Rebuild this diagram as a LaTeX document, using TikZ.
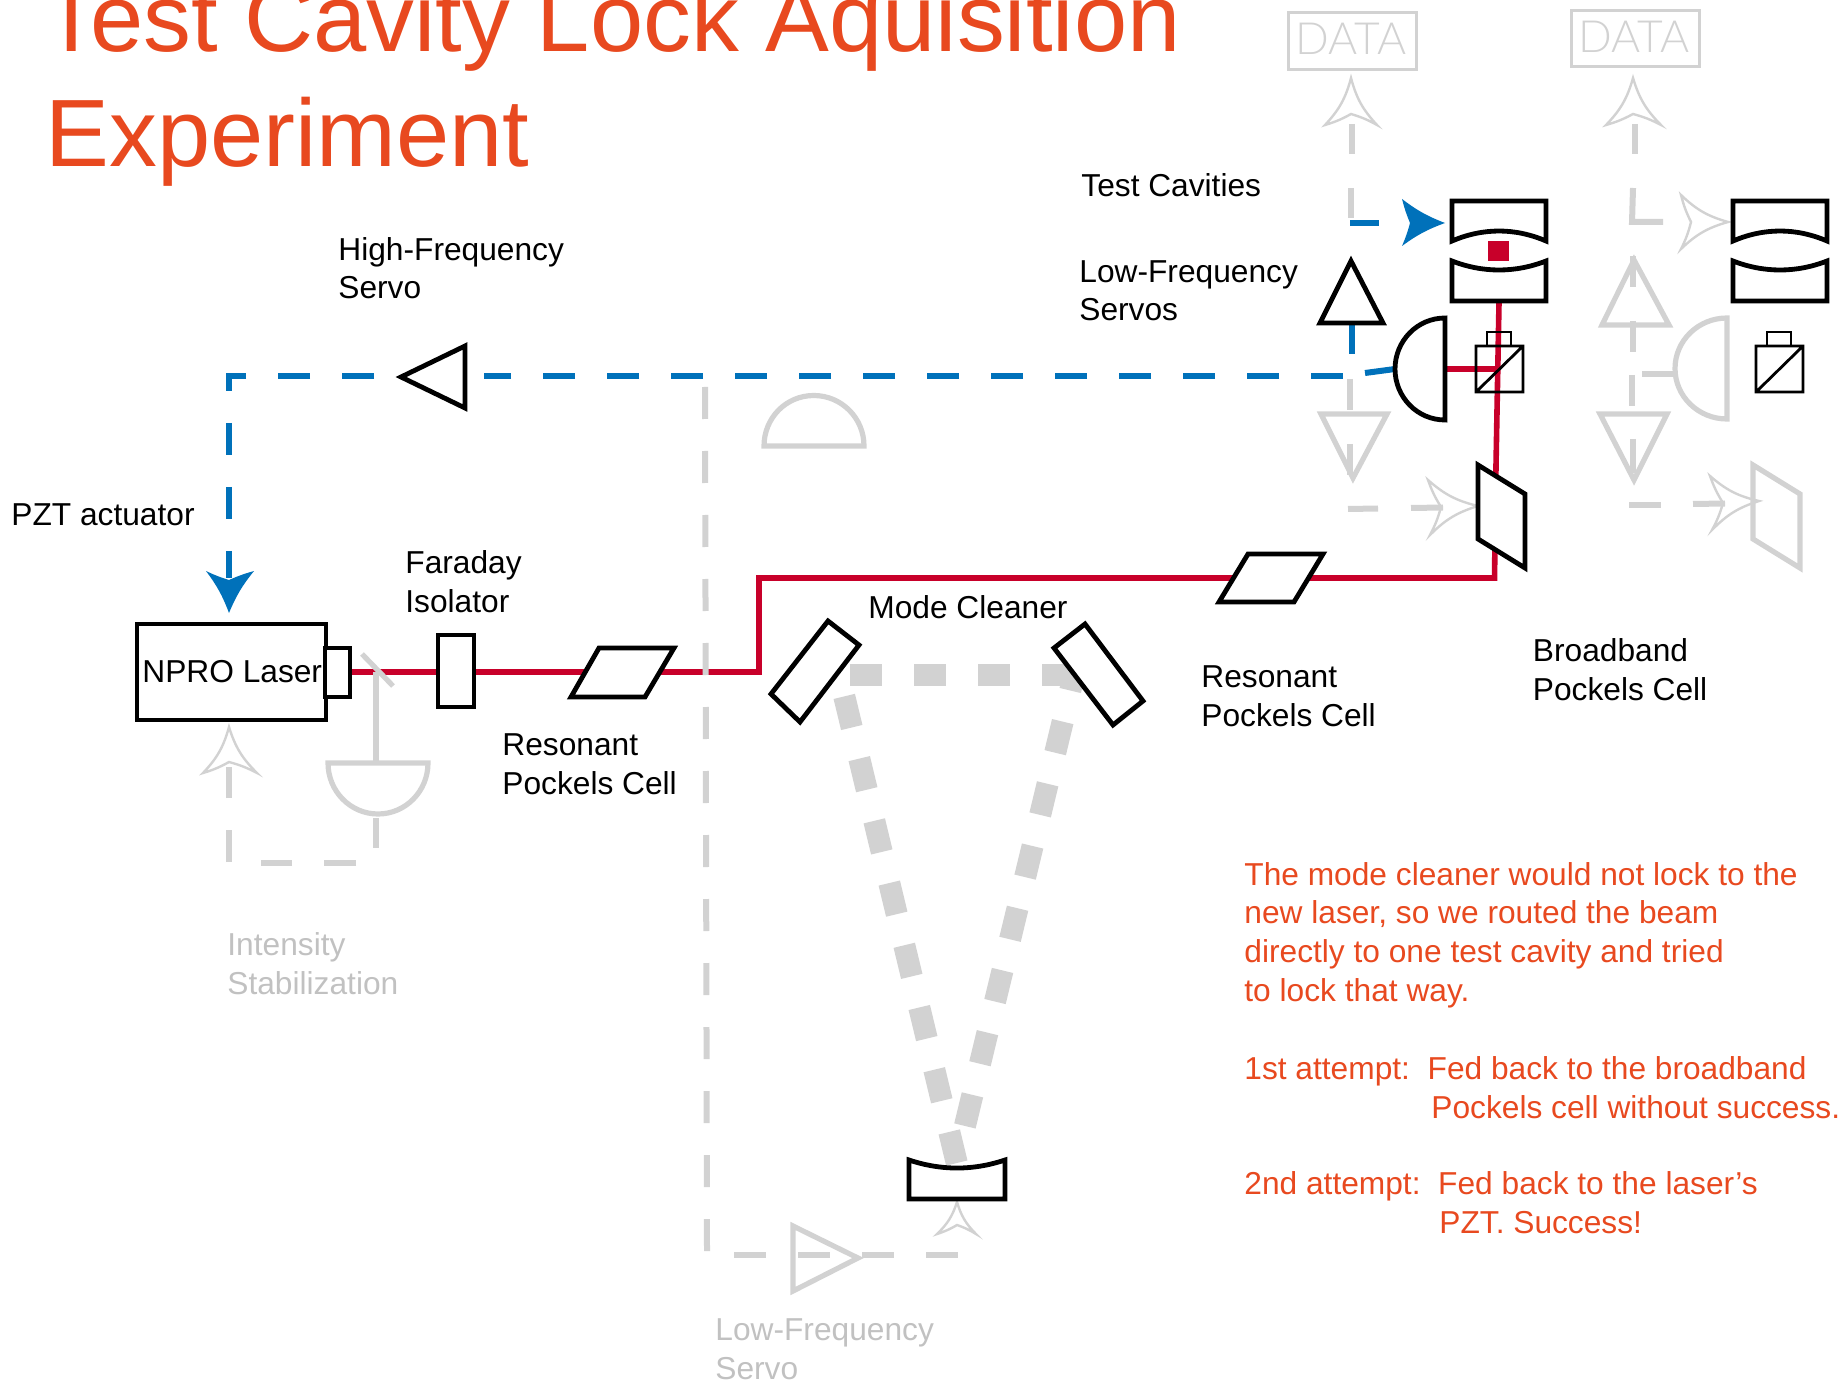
\documentclass[tikz,border=0pt]{standalone}
\usepackage{fontspec}
\setmainfont{Liberation Sans}
\newfontfamily\thinfont{Lato Light}
\definecolor{lasred}{HTML}{C8002A}
\definecolor{sigblue}{HTML}{0071BA}
\definecolor{fade}{HTML}{D2D2D2}
\definecolor{note}{HTML}{E8491F}
\newcommand{\headpath}[4]{(#1) to[bend left=14] (#2) to[bend right=6] (#3) to[bend left=6] (#4) to[bend left=14] cycle}
\newcommand{\solidhead}[4]{(#1) to[bend left=8] (#2) to[bend right=4] (#3) to[bend left=4] (#4) to[bend left=8] cycle}
\newcommand{\cavtop}[1]{(#1,241) .. controls (#1+31,227.7) and (#1+63,227.7) .. (#1+94,241) -- (#1+94,201) -- (#1,201) -- cycle}
\newcommand{\cavbot}[1]{(#1,261) .. controls (#1+31,273) and (#1+63,273) .. (#1+94,261) -- (#1+94,301) -- (#1,301) -- cycle}
\tikzset{
  x=0.5pt,y=-0.5pt,
  optic/.style={draw=black,line width=2.4pt,fill=white,miter limit=10},
  thinoptic/.style={draw=black,line width=1.4pt},
  ghost/.style={draw=fade,line width=2.6pt,miter limit=10},
  beam/.style={draw=lasred,line width=2.8pt},
  fb/.style={draw=sigblue,line width=3pt},
  fbdash/.style={fb,dash pattern=on 16pt off 16pt},
  gline/.style={draw=fade,line width=3pt},
  gdash/.style={gline,dash pattern=on 16pt off 16pt},
  mcbeam/.style={draw=fade,line width=11pt,dash pattern=on 16pt off 16pt},
  ghead/.style={draw=fade,line width=1.2pt},
  bhead/.style={fill=sigblue},
  lbl/.style={anchor=base west,inner sep=0,align=left,font=\fontsize{15.85}{19.3}\selectfont},
  gl/.style={lbl,text=fade!92!black},
  notetxt/.style={lbl,text=note},
  titletxt/.style={anchor=base west,inner sep=0,text=note,font=\fontsize{47.85}{58}\selectfont},
  datatxt/.style={anchor=base,inner sep=0,text=fade,font=\thinfont\fontsize{22.2}{25}\selectfont},
}
\begin{document}
\begin{tikzpicture}
\useasboundingbox (0,0) rectangle (1839,1384);
% --- title
\node[titletxt] (title1) at (42,52) {Test Cavity Lock Aquisition};
\node[titletxt] (title2) at (45,167) {Experiment};
% --- mode cleaner beam (behind the mirrors)
\draw[mcbeam] (850,675) -- (1074,675);
\draw[mcbeam] (844.25,696.4) -- (957,1164);
\draw[mcbeam] (1077.75,659.4) -- (962,1138);
% --- laser beam
\draw[beam] (350,672) -- (759,672) -- (759,578) -- (1494.5,578) -- (1496,465) -- (1499,302);
\draw[beam] (1446,369) -- (1497,369);
\fill[lasred] (1488,241) rectangle (1509,261);
% --- faded chain, intensity stabilisation
\draw[ghost] (362,654) -- (393,686);
\draw[gline] (376,672) -- (376,762);
\draw[ghost] (328,763) .. controls (328,791.2) and (350.4,814) .. (378,814) .. controls (405.6,814) and (428,791.2) .. (428,763) -- cycle;
\draw[gdash] (375.5,818) -- (375.5,848);
\draw[gdash] (356,863) -- (261,863);
\draw[gdash] (229,862) -- (229,767);
\draw[ghead] \headpath{229,727}{203,773}{229,762}{257,773};
% --- faded chain, mode cleaner servo
\draw[gdash] (705,387) -- (707,1251);
\draw[gdash] (734,1255) -- (958,1255);
\draw[ghost] (793,1226) -- (858,1258) -- (793,1291) -- cycle;
\draw[ghead] \headpath{957,1202}{937,1234}{957,1225}{976,1234};
\draw[ghost] (764,446) .. controls (764,418) and (786,395.5) .. (813.75,395.5) .. controls (841.5,395.5) and (864,418) .. (864,446) -- cycle;
% --- faded chains, test cavities
\draw[ghost,line width=1.5pt] (1288,13) rectangle (1416,70);
\draw[ghost,line width=1.5pt] (1571,11) rectangle (1699,67);
\node[datatxt] (data1) at (1351,55) {DATA};
\node[datatxt] (data2) at (1634,53) {DATA};
\draw[ghead] \headpath{1351,78}{1325,125}{1351,114}{1377,125};
\draw[gline] (1352,124) -- (1352,154);
\draw[gline] (1351,188) -- (1351,218);
\draw[gline] (1350,379) -- (1350,410);
\draw[ghost] (1321,414) -- (1387,414) -- (1353,478) -- cycle;
\draw[gline] (1350,444) -- (1350,475);
\draw[gline] (1348,509) -- (1378,508.5);
\draw[gline] (1411,508) -- (1443,507.5);
\draw[ghead] \headpath{1478,506}{1428,480}{1441,507}{1430,535};
\draw[ghead] \headpath{1633,78}{1606,125}{1633,114}{1661,125};
\draw[gline] (1635,124) -- (1635,154);
\draw[gline] (1633,188) -- (1632,222) -- (1663,222);
\draw[ghead] \headpath{1728,222}{1681,195}{1691,222}{1681,249};
\draw[ghost] (1634,260) -- (1669,325) -- (1602,325) -- cycle;
\draw[gline] (1633,256) -- (1633,287);
\draw[gline] (1633,321) -- (1633,352);
\draw[gline] (1632,375) -- (1632,406);
\draw[ghost] (1600,414) -- (1667,414) -- (1634,480) -- cycle;
\draw[gline] (1633,439) -- (1633,473);
\draw[gline] (1629,505) -- (1661,505);
\draw[gline] (1693,504) -- (1725,503.5);
\draw[ghead] \headpath{1759,501}{1710,476}{1723,503}{1712,530};
\draw[ghost] (1727,318) .. controls (1698.3,318) and (1675,340.6) .. (1675,368.5) .. controls (1675,396.4) and (1698.3,419) .. (1727,419) -- cycle;
\draw[gline] (1642,374) -- (1675,374);
\draw[ghost] (1753,465) -- (1800,494) -- (1800,568) -- (1753,539) -- cycle;
% --- feedback (blue)
\draw[fbdash] (1343,376) -- (484,376);
\draw[fbdash] (374,376) -- (229,376) -- (229,578);
\draw[fb] (1352,325) -- (1352,354);
\draw[fb] (1365,373) -- (1395,369);
\draw[fb] (1350,223) -- (1379,223);
\fill[bhead] \solidhead{1445,223}{1402,199}{1410,223}{1402,246};
\fill[bhead] \solidhead{229,613}{254,571}{229,580}{206,571};
% --- optics
\draw[optic] (137,624) rectangle (326,720);
\draw[optic] (325,648) rectangle (350,697);
\draw[optic] (438,635) rectangle (474,707);
\draw[optic] (599,648) -- (674,648) -- (645,697) -- (571,697) -- cycle;
\draw[optic] (1248,554) -- (1323,554) -- (1294,602) -- (1219,602) -- cycle;
\draw[optic] (1478,465) -- (1525,494) -- (1525,568) -- (1478,539) -- cycle;
\draw[optic] (828,621) -- (859,645) -- (800,722) -- (771,694) -- cycle;
\draw[optic] (1085,624) -- (1143,701) -- (1113,725) -- (1054,648) -- cycle;
\draw[optic] (909,1160) .. controls (941,1170.7) and (973,1170.7) .. (1005,1160) -- (1005,1199) -- (909,1199) -- cycle;
\draw[optic] (465,346) -- (465,408) -- (401,377) -- cycle;
\draw[optic] (1351,261) -- (1383,323) -- (1320,323) -- cycle;
\draw[optic,fill=none] (1445,318) .. controls (1417.4,318) and (1395,340.8) .. (1395,369) .. controls (1395,397.2) and (1417.4,420) .. (1445,420) -- cycle;
\draw[optic,fill=none] \cavtop{1452};
\draw[optic,fill=none] \cavbot{1452};
\draw[optic,fill=none] \cavtop{1733};
\draw[optic,fill=none] \cavbot{1733};
\draw[thinoptic] (1476,346) rectangle (1523,392) (1476,392) -- (1523,346);
\draw[thinoptic] (1487,332) rectangle (1511,346);
\draw[thinoptic] (1756,346) rectangle (1803,392) (1756,392) -- (1803,346);
\draw[thinoptic] (1767,332) rectangle (1791,346);
% --- labels
\node[lbl] (lblcav) at (1081,197) {Test Cavities};
\node[lbl] (lbllf) at (1079,321) {Low-Frequency\\Servos};
\node[lbl] (lblhf) at (338,299) {High-Frequency\\Servo};
\node[lbl] (lblpzt) at (11,525) {PZT actuator};
\node[lbl] (lblfar) at (405,612) {Faraday\\Isolator};
\node[lbl] (lblrp1) at (502,794) {Resonant\\Pockels Cell};
\node[lbl] (lblmc) at (868,618) {Mode Cleaner};
\node[lbl] (lblrp2) at (1201,726) {Resonant\\Pockels Cell};
\node[lbl] (lblbb) at (1532.5,700) {Broadband\\Pockels Cell};
\node[lbl] (lblnpro) at (142,682) {NPRO Laser};
\node[gl] (lblint) at (227,994) {Intensity\\Stabilization};
\node[gl] (lbllf2) at (715,1379) {Low-Frequency\\Servo};
\node[notetxt] (note1) at (1244,1001) {The mode cleaner would not lock to the\\new laser, so we routed the beam\\directly to one test cavity and tried\\to lock that way.};
\node[notetxt] (note2) at (1244,1118) {1st attempt:\ \ Fed back to the broadband\\\hspace*{93.5pt}Pockels cell without success.};
\node[notetxt] (note3) at (1244,1233) {2nd attempt:\ \ Fed back to the laser's\\\hspace*{97.5pt}PZT. Success!};
\end{tikzpicture}
\end{document}
